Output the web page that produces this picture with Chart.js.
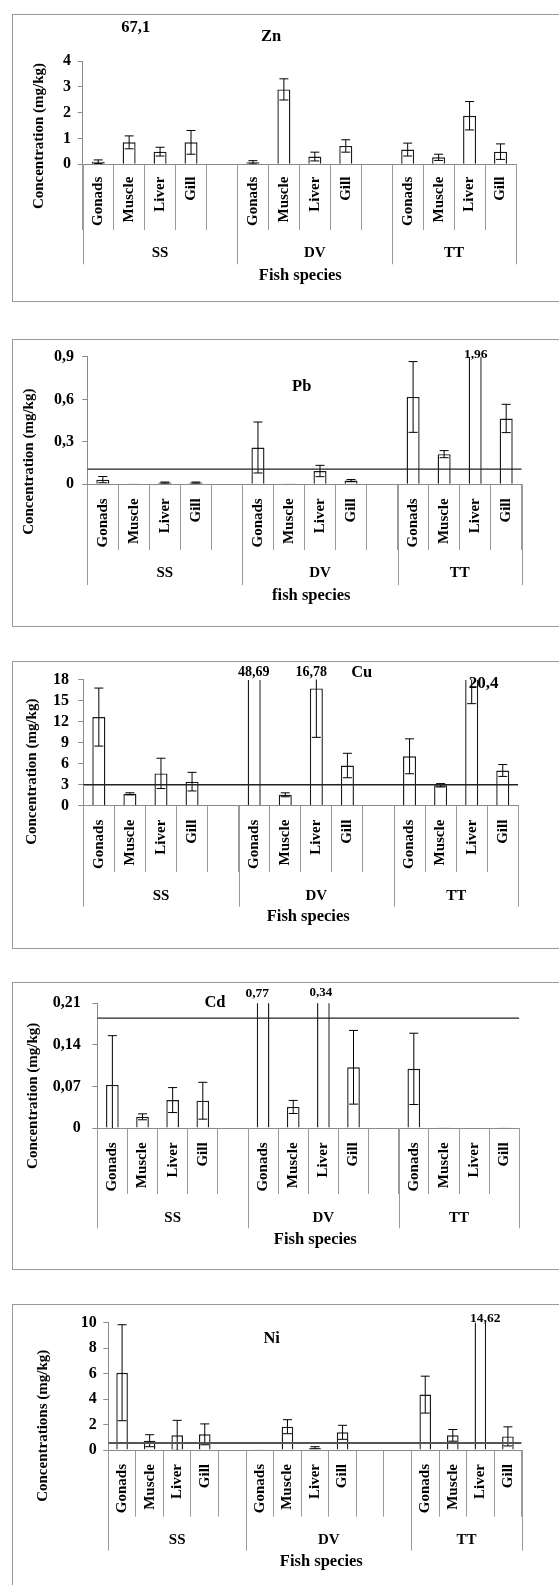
<!DOCTYPE html>
<html><head><meta charset="utf-8">
<script src="https://cdn.jsdelivr.net/npm/chart.js@4.4.1/dist/chart.umd.min.js"></script>
<style>
html,body{margin:0;padding:0;background:#fff;overflow:hidden;}
body{width:559px;height:1585px;position:relative;}
.box{position:absolute;left:12px;width:620px;border:1px solid #9a9a9a;box-sizing:border-box;}
canvas{position:absolute;left:0;}
</style></head><body>
<script>
// ---------- DATA ----------
const categories14 = ['Gonads','Muscle','Liver','Gill','','Gonads','Muscle','Liver','Gill','','Gonads','Muscle','Liver','Gill'];
const categories15 = ['Gonads','Muscle','Liver','Gill','','Gonads','Muscle','Liver','Gill','','','Gonads','Muscle','Liver','Gill'];
const groups = ['SS','DV','TT'];
const groupBounds14 = [0,5,10,14];
const groupBounds15 = [0,5,11,15];

const znValues = [0.10,0.85,0.49,0.85,null, 0.08,2.90,0.30,0.71,null, 0.57,0.27,1.88,0.49];
const znErrors = [0.07,0.25,0.17,0.46,null, 0.06,0.41,0.17,0.24,null, 0.25,0.12,0.55,0.30];
const znTicks = [0,1,2,3,4];
const znTickLabels = ['0','1','2','3','4'];

const pbValues = [0.033,0.005,0.012,0.012,null, 0.26,0.005,0.094,0.026,null, 0.617,0.213,1.96,0.465];
const pbErrors = [0.022,0,0.004,0.004,null, 0.18,0,0.04,0.008,null, 0.25,0.025,0,0.10];
const pbTicks = [0,0.3,0.6,0.9];
const pbTickLabels = ['0','0,3','0,6','0,9'];
const pbLimit = 0.107;

const cuValues = [12.68,1.70,4.62,3.44,null, 48.69,1.56,16.78,5.75,null, 7.07,2.92,20.4,5.04];
const cuErrors = [4.15,0.15,2.17,1.33,null, 0,0.28,7.0,1.75,null, 2.5,0.24,5.8,0.85];
const cuTicks = [0,3,6,9,12,15,18];
const cuTickLabels = ['0','3','6','9','12','15','18'];
const cuLimit = 3.0;

const cdValues = [0.0724,0.0188,0.047,0.0459,null, 0.77,0.0354,0.34,0.1022,null, 0.0995,0.0005,0,0.0005];
const cdErrors = [0.083,0.005,0.021,0.031,null, 0,0.011,0,0.062,null, 0.06,0,0,0];
const cdTicks = [0,0.07,0.14,0.21];
const cdTickLabels = ['0','0,07','0,14','0,21'];
const cdLimit = 0.185;

const niValues = [6.07,0.73,1.15,1.23,null, 0.05,1.83,0.18,1.39,null,null, 4.35,1.15,14.62,1.07];
const niErrors = [3.77,0.47,1.18,0.82,null, 0,0.55,0.08,0.55,null,null, 1.45,0.46,0,0.75];
const niTicks = [0,2,4,6,8,10];
const niTickLabels = ['0','2','4','6','8','10'];
const niLimit = 0.55;

// ---------- LAYOUT ----------
const FONT = "'Liberation Serif','Times New Roman',serif";
const W = 559;
const fmt = v => String(v).replace('.', ',');

const panels = [
  {id:'zn', boxTop:14, boxBottom:301, left:82.7, right:516, yTop:61, yBottom:164.3, catEnd:230, grpEnd:264.3, labelTop:176.7, grpY:253.3, tickRight:71,
   cats:categories14, bounds:groupBounds14, values:znValues, errors:znErrors, ticks:znTicks, tickLabels:znTickLabels, limit:null,
   texts:[{t:'Zn',x:271,y:37,s:16.5},{t:'67,1',x:135.8,y:28,s:16.5},{t:'Fish species',x:300.3,y:276,s:16.5},{t:'Concentration (mg/kg)',x:39,y:136,s:15,rot:true}],
   offscale:[]},
  {id:'pb', boxTop:339, boxBottom:626, left:87.3, right:521.7, yTop:356, yBottom:484.3, catEnd:550, grpEnd:585, labelTop:498.3, grpY:573.3, tickRight:74,
   cats:categories14, bounds:groupBounds14, values:pbValues, errors:pbErrors, ticks:pbTicks, tickLabels:pbTickLabels, limit:pbLimit, limitW:1.3, limitC:'#222',
   texts:[{t:'Pb',x:301.7,y:386.7,s:16.5},{t:'fish species',x:311.3,y:595.3,s:16.5},{t:'Concentration (mg/kg)',x:29.3,y:461.7,s:15,rot:true}],
   offscale:[{i:12,x:475.7,y:355,s:13.5}]},
  {id:'cu', boxTop:661, boxBottom:948.3, left:83.3, right:518.3, yTop:678.7, yBottom:806, catEnd:872.3, grpEnd:906.7, labelTop:820, grpY:896, tickRight:69,
   cats:categories14, bounds:groupBounds14, values:cuValues, errors:cuErrors, ticks:cuTicks, tickLabels:cuTickLabels, limit:cuLimit, limitW:1.3, limitC:'#222',
   texts:[{t:'Cu',x:361.7,y:672.3,s:16.5},{t:'Fish species',x:308.2,y:916.7,s:16.5},{t:'Concentration (mg/kg)',x:31.7,y:771.7,s:15,rot:true}],
   offscale:[{i:5,x:253.7,y:672.3,s:14},{i:7,x:311.2,y:672.3,s:14},{i:12,x:483.7,y:683.3,s:17}]},
  {id:'cd', boxTop:982, boxBottom:1269.3, left:97.3, right:519.3, yTop:1001.7, yBottom:1128.3, catEnd:1194.3, grpEnd:1228.3, labelTop:1142.7, grpY:1218.3, tickRight:80.7,
   cats:categories14, bounds:groupBounds14, values:cdValues, errors:cdErrors, ticks:cdTicks, tickLabels:cdTickLabels, limit:cdLimit, limitW:1.3, limitC:'#222',
   texts:[{t:'Cd',x:215,y:1002.3,s:16.5},{t:'Fish species',x:315.3,y:1239.3,s:16.5},{t:'Concentration (mg/kg)',x:33.3,y:1095.8,s:15,rot:true}],
   offscale:[{i:5,x:257.2,y:993.3,s:13.5},{i:7,x:320.8,y:992.3,s:13}]},
  {id:'ni', boxTop:1304, boxBottom:1585, left:108.3, right:521.7, yTop:1322.7, yBottom:1450, catEnd:1516.7, grpEnd:1550.7, labelTop:1464, grpY:1540, tickRight:96.7,
   cats:categories15, bounds:groupBounds15, values:niValues, errors:niErrors, ticks:niTicks, tickLabels:niTickLabels, limit:niLimit, limitW:2, limitC:'#555',
   texts:[{t:'Ni',x:271.7,y:1338.3,s:16.5},{t:'Fish species',x:321.3,y:1561.7,s:16.5},{t:'Concentrations (mg/kg)',x:43.3,y:1425.8,s:15,rot:true}],
   offscale:[{i:13,x:485.3,y:1319,s:13.5}]}
];

function drawText(ctx, t, x, y, size, rot) {
  ctx.save();
  ctx.font = `bold ${size}px ${FONT}`;
  ctx.fillStyle = '#000';
  ctx.textAlign = 'center';
  ctx.textBaseline = 'middle';
  ctx.translate(x, y);
  if (rot) ctx.rotate(-Math.PI/2);
  ctx.fillText(t, 0, 0);
  ctx.restore();
}

const decoPlugin = {
  id: 'deco',
  afterDatasetsDraw(chart) {
    const p = chart.$panel;
    const {ctx, chartArea} = chart;
    const ys = chart.scales.y;
    const meta = chart.getDatasetMeta(0);
    ctx.save();
    ctx.beginPath();
    ctx.rect(chartArea.left, chartArea.top - 0.5, chartArea.right - chartArea.left, chartArea.bottom - chartArea.top + 0.5);
    ctx.clip();
    // error bars
    ctx.strokeStyle = '#000';
    ctx.lineWidth = 1;
    p.values.forEach((v, i) => {
      const e = p.errors[i];
      if (v == null || !e) return;
      const px = meta.data[i].x;
      const yt = ys.getPixelForValue(v + e);
      const yb = ys.getPixelForValue(v - e);
      ctx.beginPath();
      ctx.moveTo(px, yt); ctx.lineTo(px, yb);
      ctx.moveTo(px - 4.5, yt); ctx.lineTo(px + 4.5, yt);
      ctx.moveTo(px - 4.5, yb); ctx.lineTo(px + 4.5, yb);
      ctx.stroke();
    });
    // limit line
    if (p.limit != null) {
      const ly = ys.getPixelForValue(p.limit);
      ctx.strokeStyle = p.limitC;
      ctx.lineWidth = p.limitW;
      ctx.beginPath();
      ctx.moveTo(chartArea.left, ly); ctx.lineTo(chartArea.right, ly);
      ctx.stroke();
    }
    ctx.restore();
  },
  afterDraw(chart) {
    const p = chart.$panel;
    const {ctx, chartArea} = chart;
    const xs = chart.scales.x;
    const off = p.boxTop;
    // group dividers
    ctx.save();
    ctx.strokeStyle = '#9a9a9a';
    ctx.lineWidth = 1;
    p.bounds.forEach(b => {
      const px = Math.round(xs.getPixelForValue(b - 0.5)) + 0.5;
      ctx.beginPath();
      ctx.moveTo(px, chartArea.bottom); ctx.lineTo(px, p.grpEnd - off);
      ctx.stroke();
    });
    ctx.restore();
    // group labels
    groups.forEach((g, k) => {
      const c = (p.bounds[k] + p.bounds[k+1]) / 2 - 0.5;
      drawText(ctx, g, xs.getPixelForValue(c), p.grpY - off, 15);
    });
    p.texts.forEach(t => drawText(ctx, t.t, t.x, t.y - off, t.s, t.rot));
    p.offscale.forEach(o => drawText(ctx, fmt(p.values[o.i]), o.x, o.y - off, o.s));
  }
};

panels.forEach(p => {
  const box = document.createElement('div');
  box.className = 'box';
  box.style.top = p.boxTop + 'px';
  box.style.height = (p.boxBottom - p.boxTop + 1) + 'px';
  if (p.id === 'ni') box.style.height = '400px';
  document.body.appendChild(box);

  const H = p.boxBottom - p.boxTop;
  const cv = document.createElement('canvas');
  cv.width = W; cv.height = H;
  cv.style.top = p.boxTop + 'px';
  cv.style.width = W + 'px'; cv.style.height = H + 'px';
  document.body.appendChild(cv);

  const chartBottom = p.yBottom - p.boxTop;
  const tickLen = p.catEnd - p.yBottom;
  new Chart(cv.getContext('2d'), {
    type: 'bar',
    data: {
      labels: p.cats,
      datasets: [{
        data: p.values,
        backgroundColor: '#ffffff',
        borderColor: '#1a1a1a',
        borderWidth: 1.4,
        barPercentage: 0.42,
        categoryPercentage: 1,
        borderSkipped: 'start',
        clip: 0
      }]
    },
    options: {
      responsive: false,
      animation: false,
      devicePixelRatio: 1,
      layout: {padding: {left: 0, right: W - p.right, top: p.yTop - p.boxTop, bottom: 0}},
      plugins: {legend: {display: false}, tooltip: {enabled: false}, title: {display: false}},
      scales: {
        x: {
          type: 'category',
          offset: true,
          grid: {display: true, drawOnChartArea: false, drawTicks: true, tickLength: tickLen, color: '#9a9a9a', lineWidth: 1, offset: true},
          border: {display: true, color: '#8a8a8a', width: 1},
          ticks: {autoSkip: false, minRotation: 90, maxRotation: 90, padding: (p.labelTop - p.yBottom) - tickLen, color: '#000',
                  font: {family: FONT, size: 15, weight: 'bold'}},
          afterFit: s => { s.height = H - chartBottom; }
        },
        y: {
          min: p.ticks[0], max: p.ticks[p.ticks.length - 1],
          afterBuildTicks: s => { s.ticks = p.ticks.map(v => ({value: v})); },
          grid: {display: true, drawOnChartArea: false, drawTicks: true, tickLength: 5, color: '#8a8a8a'},
          border: {display: true, color: '#8a8a8a', width: 1},
          ticks: {autoSkip: false, padding: p.left - 5 - p.tickRight, color: '#000', font: {family: FONT, size: 16, weight: 'bold'},
                  callback: (v, i) => p.tickLabels[i]},
          afterFit: s => { s.width = p.left; }
        }
      }
    },
    plugins: [{id: 'panelRef', beforeInit(c) { c.$panel = p; }}, decoPlugin]
  });
});
</script>
</body></html>
